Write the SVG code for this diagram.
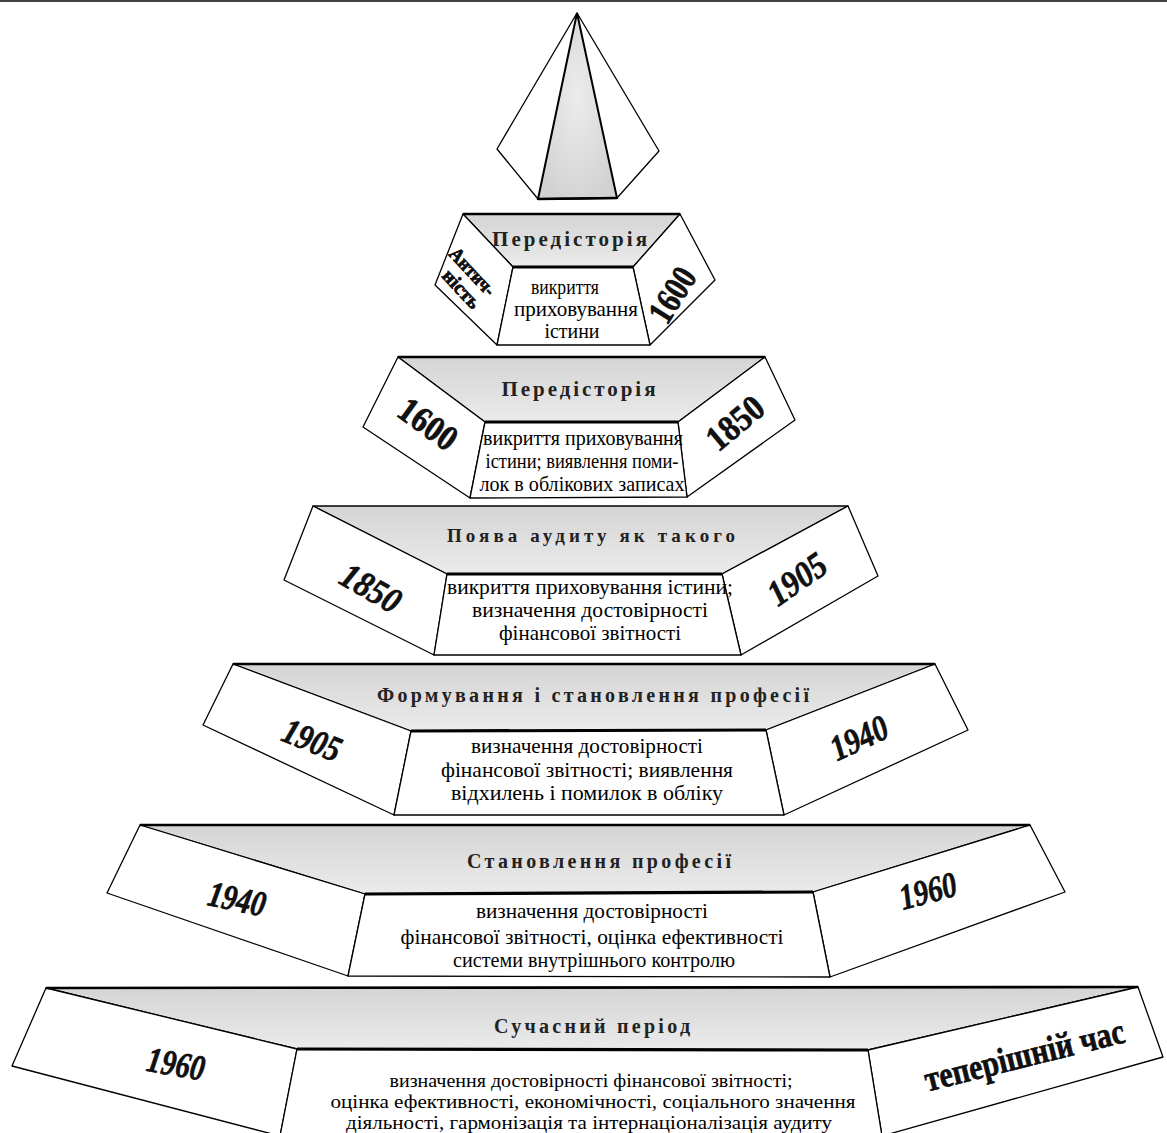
<svg xmlns="http://www.w3.org/2000/svg" width="1167" height="1133" viewBox="0 0 1167 1133">
<defs>
<linearGradient id="gfill" x1="0" y1="0" x2="0" y2="1">
<stop offset="0" stop-color="#d4d4d4"/>
<stop offset="1" stop-color="#ebebeb"/>
</linearGradient>
<radialGradient id="pfill" cx="0.5" cy="0.45" r="0.6">
<stop offset="0" stop-color="#ececec"/>
<stop offset="1" stop-color="#d2d2d2"/>
</radialGradient>
<style>
.panel{fill:#fff;stroke:#000;stroke-width:1.3;stroke-linejoin:round}
.gray{fill:url(#gfill);stroke:#000;stroke-width:1.3;stroke-linejoin:round}
.etop{stroke:#000;stroke-width:2.6;fill:none}
.emid{stroke:#000;stroke-width:3.2;fill:none}
.title{font-family:"Liberation Serif",serif;font-weight:bold;fill:#222;text-anchor:middle}
.body{font-family:"Liberation Serif",serif;font-size:21px;fill:#000;text-anchor:middle}
.body6{font-family:"Liberation Serif",serif;font-size:18px;fill:#000;text-anchor:middle}
.year{font-family:"Liberation Serif",serif;font-weight:bold;font-style:italic;font-size:36px;fill:#111;stroke:#000;stroke-width:0.6;text-anchor:middle}
.upright{font-style:normal}
.small{font-family:"Liberation Serif",serif;font-weight:bold;font-size:20px;fill:#111;stroke:#000;stroke-width:0.7;text-anchor:middle}
</style>
</defs>
<rect x="0" y="0" width="1167" height="1133" fill="#fff"/>
<line x1="0" y1="1" x2="1167" y2="1" stroke="#444" stroke-width="2"/>

<g id="apex">
<polygon class="panel" points="577,13 659,151 617,198 538,199 497,149"/>
<polygon points="577,13 617,198 538,199" fill="url(#pfill)" stroke="#000" stroke-width="2"/>
<line class="etop" x1="538" y1="199" x2="617" y2="198"/>
</g>

<g id="tier1">
<polygon class="gray" points="463,214 680,214 633,267 513,267"/>
<polygon class="panel" points="463,214 513,267 497,345 435,285"/>
<polygon class="panel" points="680,214 715,280 650,345 633,267"/>
<polygon class="panel" points="513,267 633,267 650,345 497,345"/>
<line class="etop" x1="463" y1="214" x2="680" y2="214"/>
<line class="emid" x1="513" y1="267" x2="633" y2="267"/>
<text class="title" x="569.5" y="246" font-size="21" textLength="155" lengthAdjust="spacing">Передісторія</text>
<text class="body" x="565" y="294" textLength="68" lengthAdjust="spacingAndGlyphs">викриття</text>
<text class="body" x="576" y="316" textLength="124" lengthAdjust="spacingAndGlyphs">приховування</text>
<text class="body" x="572" y="338" textLength="55" lengthAdjust="spacingAndGlyphs">істини</text>
<g transform="translate(467,281) rotate(47)">
<text class="small" x="-3" y="-4" textLength="58" lengthAdjust="spacingAndGlyphs">Антич-</text>
<text class="small" x="2" y="16" textLength="46" lengthAdjust="spacingAndGlyphs">ність</text>
</g>
<text class="year upright" transform="translate(674,296) rotate(-58)" x="0" y="10" font-size="30" textLength="58" lengthAdjust="spacingAndGlyphs">1600</text>
</g>

<g id="tier2">
<polygon class="gray" points="398,357 765,357 678,422 485,422"/>
<polygon class="panel" points="398,357 485,422 470,498 363,427"/>
<polygon class="panel" points="765,357 795,420 687,497 678,422"/>
<polygon class="panel" points="485,422 678,422 687,497 470,498"/>
<line class="etop" x1="398" y1="357" x2="765" y2="357"/>
<line class="emid" x1="485" y1="422" x2="678" y2="422"/>
<text class="title" x="578.5" y="396" font-size="21" textLength="154" lengthAdjust="spacing">Передісторія</text>
<text class="body" x="583" y="445" textLength="200" lengthAdjust="spacingAndGlyphs">викриття приховування</text>
<text class="body" x="582" y="468" textLength="193" lengthAdjust="spacingAndGlyphs">істини; виявлення поми-</text>
<text class="body" x="582" y="491" textLength="205" lengthAdjust="spacingAndGlyphs">лок в облікових записах</text>
<text class="year upright" transform="translate(428,424) rotate(36)" x="0" y="12" textLength="64" lengthAdjust="spacingAndGlyphs">1600</text>
<text class="year upright" transform="translate(735,423) rotate(-40)" x="0" y="12" textLength="64" lengthAdjust="spacingAndGlyphs">1850</text>
</g>

<g id="tier3">
<polygon class="gray" points="313,506 848,506 722,574 447,574"/>
<polygon class="panel" points="313,506 447,574 434,655 284,580"/>
<polygon class="panel" points="848,506 878,576 741,655 722,574"/>
<polygon class="panel" points="447,574 722,574 741,655 434,655"/>
<line class="emid" x1="447" y1="574" x2="722" y2="574"/>
<text class="title" x="591" y="542" font-size="19" textLength="288" lengthAdjust="spacing">Поява аудиту як такого</text>
<text class="body" x="590" y="594" textLength="286" lengthAdjust="spacingAndGlyphs">викриття приховування істини;</text>
<text class="body" x="590" y="617" textLength="236" lengthAdjust="spacingAndGlyphs">визначення достовірності</text>
<text class="body" x="590" y="640" textLength="182" lengthAdjust="spacingAndGlyphs">фінансової звітності</text>
<text class="year" transform="translate(371,588) rotate(30)" x="0" y="12" textLength="64" lengthAdjust="spacingAndGlyphs">1850</text>
<text class="year" transform="translate(797,579) rotate(-35)" x="0" y="12" textLength="64" lengthAdjust="spacingAndGlyphs">1905</text>
</g>

<g id="tier4">
<polygon class="gray" points="233,664 935,664 766,730 411,731"/>
<polygon class="panel" points="233,664 411,731 394,815 203,725"/>
<polygon class="panel" points="935,664 968,730 784,815 766,730"/>
<polygon class="panel" points="411,731 766,730 784,815 394,815"/>
<line class="etop" x1="233" y1="664" x2="935" y2="664"/>
<line class="emid" x1="411" y1="731" x2="766" y2="730"/>
<text class="title" x="593" y="702" font-size="20" textLength="432" lengthAdjust="spacing">Формування і становлення професії</text>
<text class="body" x="587" y="753" textLength="232" lengthAdjust="spacingAndGlyphs">визначення достовірності</text>
<text class="body" x="587" y="777" textLength="292" lengthAdjust="spacingAndGlyphs">фінансової звітності; виявлення</text>
<text class="body" x="587" y="800" textLength="272" lengthAdjust="spacingAndGlyphs">відхилень і помилок в обліку</text>
<text class="year" transform="translate(312,740) rotate(22)" x="0" y="12" textLength="60" lengthAdjust="spacingAndGlyphs">1905</text>
<text class="year" transform="translate(859,738) rotate(-25)" x="0" y="12" textLength="60" lengthAdjust="spacingAndGlyphs">1940</text>
</g>

<g id="tier5">
<polygon class="gray" points="140,825 1030,825 813,892 365,894"/>
<polygon class="panel" points="140,825 365,894 348,976 107,893"/>
<polygon class="panel" points="1030,825 1065,892 830,977 813,892"/>
<polygon class="panel" points="365,894 813,892 830,977 348,976"/>
<line class="etop" x1="140" y1="825" x2="1030" y2="825"/>
<line class="emid" x1="365" y1="894" x2="813" y2="892"/>
<text class="title" x="599" y="868" font-size="20" textLength="264" lengthAdjust="spacing">Становлення професії</text>
<text class="body" x="592" y="918" textLength="232" lengthAdjust="spacingAndGlyphs">визначення достовірності</text>
<text class="body" x="592" y="944" textLength="383" lengthAdjust="spacingAndGlyphs">фінансової звітності, оцінка ефективності</text>
<text class="body" x="594" y="967" textLength="282" lengthAdjust="spacingAndGlyphs">системи внутрішнього контролю</text>
<text class="year" transform="translate(237,899) rotate(12)" x="0" y="12" textLength="58" lengthAdjust="spacingAndGlyphs">1940</text>
<text class="year" transform="translate(928,891) rotate(-15)" x="0" y="12" textLength="58" lengthAdjust="spacingAndGlyphs">1960</text>
</g>

<g id="tier6">
<polygon class="gray" points="46,988 1138,987 868,1050 297,1049"/>
<polygon class="panel" points="46,988 297,1049 280,1136 12,1066"/>
<polygon class="panel" points="1138,987 1163,1057 882,1136 868,1050"/>
<polygon class="panel" points="297,1049 868,1050 882,1136 280,1136"/>
<line class="etop" x1="46" y1="988" x2="1138" y2="987"/>
<line class="emid" x1="297" y1="1049" x2="868" y2="1050"/>
<text class="title" x="592" y="1033" font-size="20" textLength="196" lengthAdjust="spacing">Сучасний період</text>
<text class="body6" x="591" y="1087" textLength="403" lengthAdjust="spacingAndGlyphs">визначення достовірності фінансової звітності;</text>
<text class="body6" x="593" y="1108" textLength="525" lengthAdjust="spacingAndGlyphs">оцінка ефективності, економічності, соціального значення</text>
<text class="body6" x="589" y="1129" textLength="486" lengthAdjust="spacingAndGlyphs">діяльності, гармонізація та інтернаціоналізація аудиту</text>
<text class="year" transform="translate(176,1064) rotate(10)" x="0" y="12" textLength="58" lengthAdjust="spacingAndGlyphs">1960</text>
<text class="year upright" transform="translate(1025,1058) rotate(-14)" x="0" y="9" font-size="27" textLength="205" lengthAdjust="spacingAndGlyphs">теперішній час</text>
</g>

<g id="connectors"/>
</svg>
